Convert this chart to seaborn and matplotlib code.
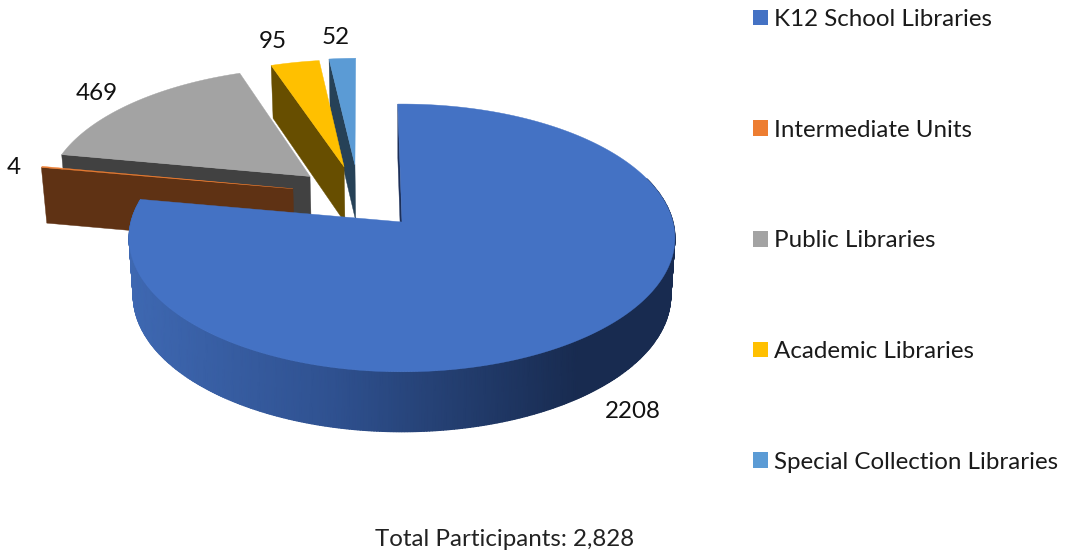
import numpy as np
import matplotlib
matplotlib.use("Agg")
import matplotlib.pyplot as plt
import seaborn as sns
from matplotlib.colors import LinearSegmentedColormap, Normalize
from matplotlib.patches import Patch

# Data
categories = ["K12 School Libraries", "Intermediate Units", "Public Libraries",
              "Academic Libraries", "Special Collection Libraries"]
participants = [2208, 4, 469, 95, 52]
value_labels = ["2208", "4", "469", "95", "52"]
footer = "Total Participants: 2,828"

# Colours
top_colors = sns.color_palette(["#4472c4", "#ed7d31", "#a3a3a3", "#ffc000", "#5b9bd5"])
face_colors = ["#1c2f59", "#5f3214", "#414141", "#674e00", "#264157"]

# Projection of the tilted disc onto the canvas
CX, CY = 402, 222
RX, RY = 271, 132
PERSP = 0.119
START = -1.0
explode = [(0, 0), (-0.415, -0.26), (-0.354, -0.36), (-0.225, -0.44), (-0.183, -0.456)]
label_xy = [(633, 412), (14, 168), (97, 93), (273, 41), (336, 38)]


def project(theta, radius, offset, bottom=False):
    t = np.radians(theta)
    u = radius * np.sin(t) + offset[0]
    v = -radius * np.cos(t) + offset[1]
    w = 1 - PERSP * v
    x = RX * u / w
    y = RY * v / w
    if bottom:
        return CX + x * 0.985, CY + y + 57 + 3 * v
    return CX + x, CY + y


def edge_face(ax, theta, offset, color, zorder):
    xa, ya = project(theta, 0, offset)
    xb, yb = project(theta, 1, offset)
    xc, yc = project(theta, 1, offset, bottom=True)
    xd, yd = project(theta, 0, offset, bottom=True)
    ax.fill([xa, xb, xc, xd], [ya, yb, yc, yd], color=color, lw=0.3, zorder=zorder)


def top_face(ax, a0, a1, offset, color, zorder):
    thetas = np.linspace(a0, a1, max(int(a1 - a0) * 2, 4))
    xs, ys = project(thetas, 1, offset)
    xa, ya = project(a0, 0, offset)
    ax.fill(np.r_[xa, xs], np.r_[ya, ys], color=color, lw=0.3, zorder=zorder)


sns.set_theme(style="white")
plt.rcParams["font.family"] = ["Lato", "DejaVu Sans"]

fig = plt.figure(figsize=(10.7, 5.56), dpi=100)
ax = fig.add_axes([0, 0, 1, 1])
ax.set_xlim(0, 1070)
ax.set_ylim(556, 0)
ax.axis("off")

sweeps = np.array(participants) / sum(participants) * 360
starts = START + np.r_[0, np.cumsum(sweeps)[:-1]]

# Far slices first, the big one last
z_order = {4: 1, 3: 2, 2: 3, 1: 4, 0: 5}
for i in [4, 3, 2, 1]:
    a0, a1 = starts[i], starts[i] + sweeps[i]
    z = z_order[i] * 10
    edge_face(ax, a0, explode[i], face_colors[i], z)
    top_face(ax, a0, a1, explode[i], top_colors[i], z + 1)

# K12 slice: shaded rim, inner wall, top
side_cmap = LinearSegmentedColormap.from_list(
    "rim", [(0, "#3e68b2"), (0.37, "#2f5190"), (0.68, "#1f3764"), (0.82, "#182b50"), (1, "#182b50")])
side_norm = Normalize(130, 676)
a0, a1 = starts[0], starts[0] + sweeps[0]
rim = np.linspace(70, a1, 400)
xt, yt = project(rim, 1, explode[0])
xb, yb = project(rim, 1, explode[0], bottom=True)
mesh_x = np.vstack([xt, xb])
mesh_y = np.vstack([yt, yb])
ax.pcolormesh(mesh_x, mesh_y, mesh_x, cmap=side_cmap, norm=side_norm, shading="gouraud", zorder=50)
ax.set_xlim(0, 1070)
ax.set_ylim(556, 0)
edge_face(ax, a0, explode[0], face_colors[0], 51)
top_face(ax, a0, a1, explode[0], top_colors[0], 52)

# Value labels
for txt, (x, y) in zip(value_labels, label_xy):
    ax.text(x, y, txt, fontsize=17.4, color="#111111", ha="center", va="center", zorder=60)

ax.text(505, 540, footer, fontsize=17.4, color="#222222", ha="center", va="center")

# Legend
handles = [Patch(facecolor=c, edgecolor="none") for c in top_colors]
ax.legend(handles, categories, loc="upper left", bbox_to_anchor=(753 / 1070, 1 - 9 / 556),
          bbox_transform=fig.transFigure, frameon=False, fontsize=17.4, labelspacing=3.71,
          handlelength=0.62, handleheight=0.62, handletextpad=0.25, borderpad=0, borderaxespad=0,
          labelcolor="#1a1a1a")

plt.savefig("out.png", dpi=100)
plt.close()
